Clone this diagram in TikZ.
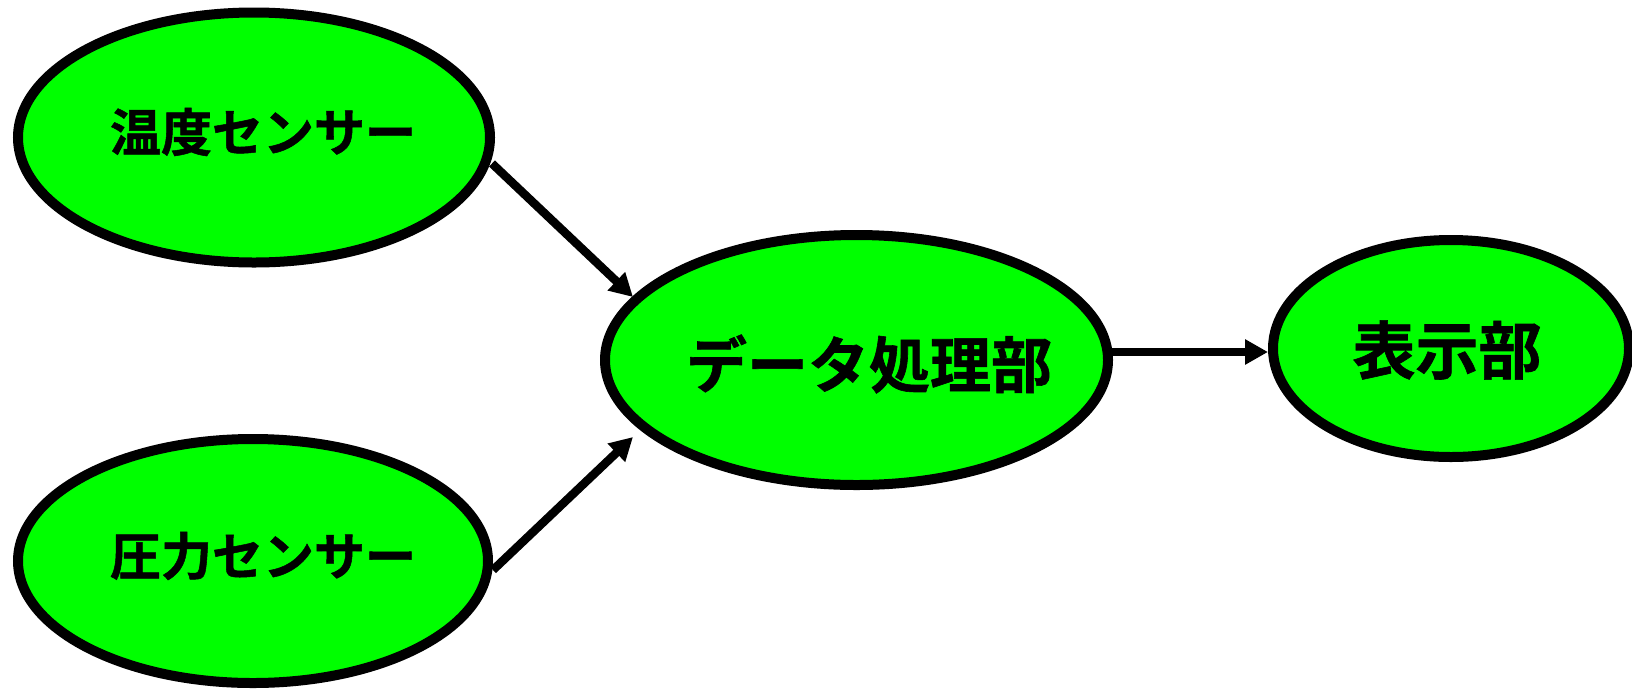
\documentclass[tikz,border=0pt]{standalone}
\usepackage{fontspec}
\newfontfamily\jpfont{Noto Sans CJK JP}[BoldFont={Noto Sans CJK JP Bold}, BoldFeatures={FakeBold=1}]
\usetikzlibrary{shapes.geometric,arrows.meta,calc}
\definecolor{nodegreen}{RGB}{0,255,0}
\begin{document}
\begin{tikzpicture}[x=1pt,y=-1pt,
  blob/.style={ellipse, draw=black, fill=nodegreen, line width=10pt, inner sep=0pt},
  smalltxt/.style={font=\jpfont\bfseries\fontsize{51}{51}\selectfont, inner sep=0pt},
  bigtxt/.style={font=\jpfont\bfseries\fontsize{61}{61}\selectfont, inner sep=0pt},
  disptxt/.style={font=\jpfont\bfseries\fontsize{63}{63}\selectfont, inner sep=0pt},
  conn/.style={line width=8.5pt, -{Triangle[length=23pt,width=24pt]}}]
\useasboundingbox[fill=white] (0,0) rectangle (1632,694);
\node[blob, minimum width=472pt, minimum height=250pt] (temp) at (254,137.5) {};
\node[blob, minimum width=470pt, minimum height=244pt] (press) at (253,561) {};
\node[blob, minimum width=503pt, minimum height=250pt] (data) at (856.5,360) {};
\node[blob, minimum width=356pt, minimum height=217pt] (disp) at (1451,348.5) {};
\node[smalltxt] (tempt) at (263,132) {温度センサー};
\node[smalltxt] (presst) at (263,556) {圧力センサー};
\node[bigtxt] (datat) at (869,364) {データ処理部};
\node[disptxt] (dispt) at (1447,350) {表示部};
\draw[conn] ($(temp.center)+(238,26)$) -- ($(data.center)+(-223.5,-63)$);
\draw[conn] ($(press.center)+(240,9)$) -- ($(data.center)+(-223.5,77)$);
\draw[conn] ($(data.center)+(255,-8)$) -- ($(disp.center)+(-183,3.5)$);
\end{tikzpicture}
\end{document}
